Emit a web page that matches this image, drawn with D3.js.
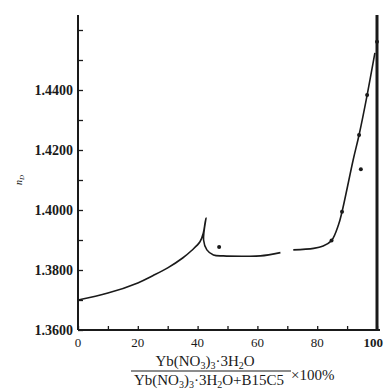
<!DOCTYPE html>
<html>
<head>
<meta charset="utf-8">
<script src="https://cdn.jsdelivr.net/npm/d3@7"></script>
<style>
  body { margin: 0; background: #fff; }
  svg { display: block; }
  text { font-family: "Liberation Serif", "DejaVu Serif", serif; fill: #1a1a1a; }
</style>
</head>
<body>
<svg id="chart" width="384" height="389"></svg>
<script>
// tick labels
const xTicks = [0, 20, 40, 60, 80, 100];
const yTicks = [1.36, 1.38, 1.40, 1.42, 1.44];

// curve, first branch (rise, spike at ~43%, plateau)
const curve1X = [0, 10, 20, 25, 30, 35, 38, 40.8, 41.9, 42.5, 42.8, 42.0, 43.1, 45.3, 48.6, 55, 61, 67.7];
const curve1N = [1.3700, 1.3723, 1.3757, 1.3781, 1.3807, 1.3840, 1.3865, 1.3894, 1.3923, 1.3957, 1.3973,
                 1.3900, 1.3867, 1.3850, 1.3847, 1.3846, 1.3847, 1.3858];

// curve, second branch (plateau then steep rise)
const curve2X = [72, 78.8, 82.0, 84.8, 87.1, 88.3, 92.1, 94.0, 96.7, 99.3];
const curve2N = [1.3867, 1.3872, 1.3880, 1.3898, 1.3950, 1.3994, 1.4170, 1.4250, 1.4383, 1.4524];

// measured points
const dotX = [47.2, 84.8, 88.3, 94.0, 94.6, 96.7, 100];
const dotN = [1.3877, 1.3898, 1.3994, 1.4250, 1.4136, 1.4383, 1.4561];

const svg = d3.select('#chart');

const x = d3.scaleLinear().domain([0, 100]).range([78, 377]);
const y = d3.scaleLinear().domain([1.36, 1.465]).range([330, 15]);

const ink = '#1a1a1a';

// left axis
const yAxis = d3.axisRight(y)
  .tickValues(d3.range(1.36, 1.4651, 0.01))
  .tickSize(5)
  .tickFormat('');
svg.append('g')
  .attr('transform', `translate(${x(0)},0)`)
  .call(yAxis)
  .call(g => g.select('.domain').attr('stroke', ink).attr('stroke-width', 2).attr('d', `M0,${y(1.465)}V${y(1.36)}`))
  .call(g => g.selectAll('.tick line').attr('stroke', ink).attr('stroke-width', 1.3));

svg.append('g')
  .selectAll('text')
  .data(yTicks)
  .join('text')
  .attr('x', x(0) - 5)
  .attr('y', d => y(d) + 5)
  .attr('text-anchor', 'end')
  .attr('font-size', 14)
  .attr('font-weight', 'bold')
  .text(d => d.toFixed(4));

// bottom axis
const xAxis = d3.axisTop(x)
  .tickValues(d3.range(0, 101, 10))
  .tickSize(4)
  .tickFormat('');
svg.append('g')
  .attr('transform', `translate(0,${y(1.36)})`)
  .call(xAxis)
  .call(g => g.select('.domain').attr('stroke', ink).attr('stroke-width', 2).attr('d', `M${x(0)},0H${x(100) + 3}`))
  .call(g => g.selectAll('.tick line').attr('stroke', ink).attr('stroke-width', 1.3));

svg.append('g')
  .selectAll('text')
  .data(xTicks)
  .join('text')
  .attr('x', d => d === 100 ? 383 : x(d))
  .attr('y', y(1.36) + 17)
  .attr('text-anchor', d => d === 100 ? 'end' : 'middle')
  .attr('font-size', 13)
  .attr('font-weight', d => d === 100 ? 'bold' : 'normal')
  .text(d => d);

// right frame line at 100%
svg.append('line')
  .attr('x1', x(100)).attr('x2', x(100))
  .attr('y1', y(1.465)).attr('y2', y(1.36))
  .attr('stroke', ink)
  .attr('stroke-width', 3);

// curves
const line = d3.line()
  .x(d => x(d[0]))
  .y(d => y(d[1]))
  .curve(d3.curveCatmullRom.alpha(0.5));

[[curve1X, curve1N], [curve2X, curve2N]].forEach(([xs, ns]) => {
  svg.append('path')
    .datum(xs.map((v, i) => [v, ns[i]]))
    .attr('fill', 'none')
    .attr('stroke', ink)
    .attr('stroke-width', 1.6)
    .attr('d', line);
});

svg.append('g')
  .selectAll('circle')
  .data(dotX.map((v, i) => [v, dotN[i]]))
  .join('circle')
  .attr('cx', d => x(d[0]))
  .attr('cy', d => y(d[1]))
  .attr('r', 2)
  .attr('fill', ink);

// y label n_D
const yl = svg.append('text')
  .attr('transform', 'translate(22,185) rotate(-90)')
  .attr('font-size', 10)
  .attr('font-style', 'italic');
yl.append('tspan').text('n');
yl.append('tspan').attr('font-size', 7).attr('dy', 2).text('D');

// x label: fraction, subscripts as lowered tspans
function chem(sel, parts) {
  let shift = 0;
  parts.forEach(p => {
    const target = p[1] ? 3 : 0;
    sel.append('tspan')
      .attr('dy', target - shift)
      .attr('font-size', p[1] ? 10 : null)
      .text(p[0]);
    shift = target;
  });
}
const numParts = [['Yb(NO'], ['3', 1], [')'], ['3', 1], ['·3H'], ['2', 1], ['O']];
const num = svg.append('text')
  .attr('x', 205).attr('y', 366)
  .attr('text-anchor', 'middle')
  .attr('font-size', 15);
chem(num, numParts);

const den = svg.append('text')
  .attr('x', 209).attr('y', 385)
  .attr('text-anchor', 'middle')
  .attr('font-size', 15);
chem(den, numParts.concat([['+B15C5']]));

svg.append('line')
  .attr('x1', 131).attr('x2', 291)
  .attr('y1', 371).attr('y2', 371)
  .attr('stroke', ink)
  .attr('stroke-width', 1.2);

svg.append('text')
  .attr('x', 291).attr('y', 380)
  .attr('font-size', 15)
  .text('×100%');
</script>
</body>
</html>
